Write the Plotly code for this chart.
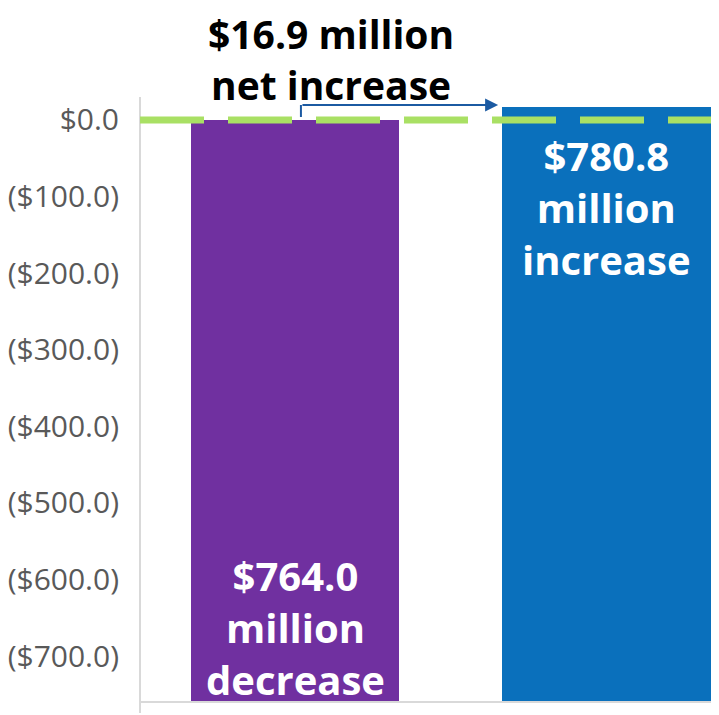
import plotly.graph_objects as go

# ---- data ----
categories = ["Decrease", "Increase"]
change_values = [-764.0, 780.8]          # $ millions
bar_bases = [0.0, -764.0]
bar_labels = ["$764.0<br>million<br>decrease", "$780.8<br>million<br>increase"]
net_label = "$16.9 million<br>net increase"
tick_values = [0, -100, -200, -300, -400, -500, -600, -700]
tick_labels = ["$0.0", "($100.0)", "($200.0)", "($300.0)", "($400.0)",
               "($500.0)", "($600.0)", "($700.0)"]

bar_colors = ["#7030A0", "#0A70BC"]
x_pos = list(range(len(categories)))

fig = go.Figure()
fig.add_trace(go.Bar(
    x=x_pos, y=change_values, base=bar_bases,
    marker=dict(color=bar_colors, line=dict(width=0)),
    width=0.668, hoverinfo="skip", showlegend=False,
))

FONT = "Open Sans"

# bar text labels
label_y = [-663, -113.6]
for i, txt in enumerate(bar_labels):
    fig.add_annotation(x=x_pos[i], y=label_y[i], xref="x", yref="y",
                       text=txt, showarrow=False, xanchor="center", yanchor="middle",
                       font=dict(family=FONT, size=40, color="white", weight=700))

# net label above the chart
fig.add_annotation(x=0.33, y=1.0630, xref="paper", yref="paper",
                   text=net_label, showarrow=False, xanchor="center", yanchor="middle",
                   borderpad=0,
                   font=dict(family=FONT, size=39, color="black", weight=700))

# arrow: vertical stub + horizontal arrow into the second bar
fig.add_shape(type="line", xref="x", yref="y", x0=0.019, x1=0.019, y0=3.9, y1=19.6,
              line=dict(color="#1B5AA2", width=2), layer="above")
fig.add_annotation(x=0.652, y=19.6, ax=0.019, ay=19.6, xref="x", yref="y",
                   axref="x", ayref="y", text="", showarrow=True,
                   arrowhead=2, arrowsize=1.3, arrowwidth=2, arrowcolor="#1B5AA2")

# y-axis line extending slightly below plot
fig.add_shape(type="line", xref="paper", yref="paper", x0=0, x1=0, y0=-0.02, y1=1,
              line=dict(color="#D9D9D9", width=2), layer="below")

# green dashed zero line
fig.add_shape(type="line", xref="paper", yref="y", x0=0, x1=1, y0=0, y1=0,
              line=dict(color="#A9E064", width=7, dash="64px,24px"), layer="above")

fig.update_layout(
    width=711, height=707,
    margin=dict(l=132, r=0, t=89, b=14),
    plot_bgcolor="white", paper_bgcolor="white",
    bargap=0,
    xaxis=dict(range=[-0.4976, 1.361], showticklabels=False, showgrid=False,
               zeroline=False, showline=True, linecolor="#D9D9D9", linewidth=1.5,
               ticks=""),
    yaxis=dict(range=[-758.5, 30.0], tickvals=tick_values, ticktext=tick_labels,
               showgrid=False, zeroline=False, showline=False, ticks="",
               ticklabelstandoff=20,
               tickfont=dict(family=FONT, size=30, color="#595959")),
)

fig.write_html("out.html")
